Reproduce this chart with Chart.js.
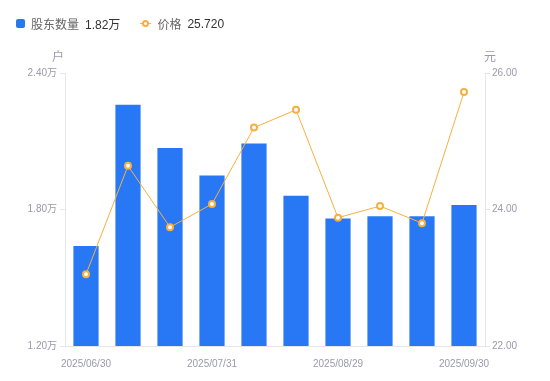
<!DOCTYPE html>
<html>
<head>
<meta charset="utf-8">
<script src="https://cdn.jsdelivr.net/npm/chart.js@4/dist/chart.umd.min.js"></script>
<style>
  html, body { margin: 0; padding: 0; background: #fff; }
  #wrap { position: relative; width: 550px; height: 381px; }
  #legend { position: absolute; left: 16px; top: 15px; display: flex; align-items: center;
    font-family: "Liberation Sans", "Noto Sans CJK SC", sans-serif; font-size: 12px; }
  .item { display: flex; align-items: center; margin-right: 20px; }
  .name { color: #666; margin-right: 6px; }
  .val { color: #333; }
  .sq { width: 9px; height: 9px; background: #2878F5; border-radius: 2px; margin-right: 6px; }
  .ln { position: relative; width: 11px; height: 9px; margin-right: 6px; }
  .ln:before { content: ""; position: absolute; left: 0; right: 0; top: 4px; height: 1px; background: #F7B03E; }
  .ln:after { content: ""; position: absolute; left: 2px; top: 1px; width: 3px; height: 3px; border: 2px solid #F7B03E; border-radius: 50%; background: #fff; }
</style>
</head>
<body>
<div id="wrap">
  <canvas id="c" width="550" height="381"></canvas>
  <div id="legend"></div>
</div>
<script>
const categories = ["2025/06/30","2025/07/10","2025/07/20","2025/07/31","2025/08/10","2025/08/20","2025/08/29","2025/09/10","2025/09/19","2025/09/30"];
const holders = [1.64, 2.26, 2.07, 1.95, 2.09, 1.86, 1.76, 1.77, 1.77, 1.82];
const prices = [23.05, 24.64, 23.74, 24.08, 25.20, 25.46, 23.88, 24.05, 23.80, 25.72];
const leftTicks = [1.20, 1.80, 2.40];
const rightTicks = [22, 24, 26];
const shownLabelIdx = [0, 3, 6, 9];
const seriesNames = ["股东数量", "价格"];
const unitLeft = "户", unitRight = "元";

const FONT = '"Liberation Sans", "Noto Sans CJK SC", sans-serif';
const BLUE = '#2878F5', ORANGE = '#F7B03E', AXIS = '#E6E6E6', TICK = '#9A9AAA';

document.getElementById('legend').innerHTML =
  '<div class="item"><span class="sq"></span><span class="name">' + seriesNames[0] + '</span><span class="val">' + holders[holders.length-1].toFixed(2) + '万</span></div>' +
  '<div class="item"><span class="ln"></span><span class="name">' + seriesNames[1] + '</span><span class="val">' + prices[prices.length-1].toFixed(3) + '</span></div>';

const unitPlugin = {
  id: 'units',
  afterDraw(chart) {
    const ctx = chart.ctx, a = chart.chartArea;
    ctx.save();
    ctx.font = '12px ' + FONT;
    ctx.fillStyle = TICK;
    ctx.textAlign = 'center';
    ctx.textBaseline = 'middle';
    ctx.fillText(unitLeft, a.left - 7, a.top - 15);
    ctx.fillText(unitRight, a.right + 5, a.top - 15);
    ctx.restore();
  }
};

new Chart(document.getElementById('c'), {
  data: {
    labels: categories,
    datasets: [
      { type: 'line', data: prices, yAxisID: 'yR', borderColor: ORANGE, borderWidth: 1,
        pointRadius: 3, pointBorderWidth: 2, pointBackgroundColor: '#fff', pointBorderColor: ORANGE,
        tension: 0, order: 0 },
      { type: 'bar', data: holders, yAxisID: 'yL', backgroundColor: BLUE,
        barPercentage: 0.6, categoryPercentage: 1.0, order: 1 }
    ]
  },
  options: {
    responsive: false, animation: false,
    layout: { padding: { top: 73, left: 0, right: 0, bottom: 0 } },
    plugins: { legend: { display: false }, tooltip: { enabled: false } },
    scales: {
      x: {
        grid: { display: false },
        border: { display: true, color: AXIS },
        ticks: { autoSkip: false, maxRotation: 0, padding: 4, color: TICK, font: { size: 10, family: FONT },
          callback: (v, i) => shownLabelIdx.includes(i) ? categories[i] : '' },
        afterFit: s => { s.height = 35; }
      },
      yL: {
        position: 'left', min: 1.2, max: 2.4,
        grid: { drawOnChartArea: false, drawTicks: true, tickLength: 5, color: AXIS },
        border: { display: true, color: AXIS },
        afterBuildTicks: s => { s.ticks = leftTicks.map(v => ({ value: v })); },
        ticks: { padding: 3, color: TICK, font: { size: 10, family: FONT }, callback: v => v.toFixed(2) + '万' },
        afterFit: s => { s.width = 65; }
      },
      yR: {
        position: 'right', min: 22, max: 26,
        grid: { drawOnChartArea: false, drawTicks: true, tickLength: 5, color: AXIS },
        border: { display: true, color: AXIS },
        afterBuildTicks: s => { s.ticks = rightTicks.map(v => ({ value: v })); },
        ticks: { padding: 2, color: TICK, font: { size: 10, family: FONT }, callback: v => v.toFixed(2) },
        afterFit: s => { s.width = 65; }
      }
    }
  },
  plugins: [unitPlugin]
});
</script>
</body>
</html>
